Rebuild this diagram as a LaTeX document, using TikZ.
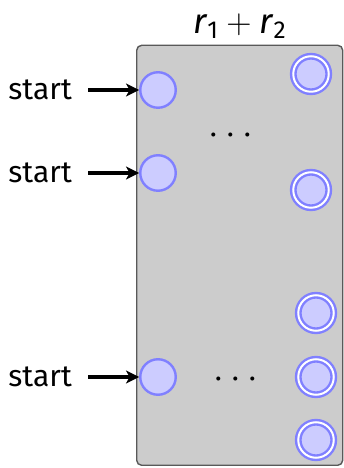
\RequirePackage{fix-cm}
\documentclass[tikz,border=0pt]{standalone}
\usepackage{fontspec}
\setmainfont{Fira Sans}
\usetikzlibrary{positioning}
\usetikzlibrary{arrows.meta}
\tikzstyle{state} = [circle,fill=blue!20,draw=blue!50,line width=2.4pt,
minimum size=35.5pt, inner sep=0pt]
\tikzstyle{accepting} = [state, double=white, double distance=2pt]
\tikzstyle{product} = [rectangle, rounded corners=5pt, fill=black!20,
draw=black!65, line width=1.4pt]
\tikzstyle{caption} = [font=\fontsize{30}{30}\selectfont, inner sep=0pt]
\tikzstyle{dots} = [caption, font=\fontsize{38}{38}\selectfont]
\tikzstyle{start} = [caption, node distance=67pt]
\tikzstyle{trans} = [->, line width=3.4pt, shorten <=16pt]
\tikzset{>={Stealth[length=13pt,width=13pt,inset=3.5pt]}}
\newcommand{\edge}[3][]{ %
  % Connect all nodes #2 to all nodes #3.
  \foreach \x in {#2} { %
    \foreach \y in {#3} { %
      \draw[trans,#1] (\x) -- (\y) ;%
    } ;
  } ;
}
\begin{document}
\begin{tikzpicture}[x=1pt,y=1pt]
  \useasboundingbox (0,0) rectangle (343,468);
  \node[product, minimum width=206pt, minimum height=420pt, anchor=south west] (prod) at (136,2) {};
  \node[caption, font=\fontsize{35}{35}\selectfont, above=6pt of prod] (r) {\textit{r}\textsubscript{1}${}+{}$\textit{r}\textsubscript{2}};

  \node[state] (s1) at (158,378) {};
  \node[state] (s2) at (158,295) {};
  \node[state] (s3) at (158,91) {};
  \node[accepting] (f1) at (311,394) {};
  \node[accepting] (f2) at (311,278) {};
  \node[accepting] (f3) at (316,155) {};
  \node[accepting] (f4) at (316,91) {};
  \node[accepting] (f5) at (316,28) {};

  \node[dots] (d1) at (231,332) {$\cdots$};
  \node[dots] (d2) at (236,88) {$\cdots$};

  \node[start, left=of s1] (t1) {start};
  \node[start, left=of s2] (t2) {start};
  \node[start, left=of s3] (t3) {start};

  \edge {t1} {s1};
  \edge {t2} {s2};
  \edge {t3} {s3};
\end{tikzpicture}
\end{document}
